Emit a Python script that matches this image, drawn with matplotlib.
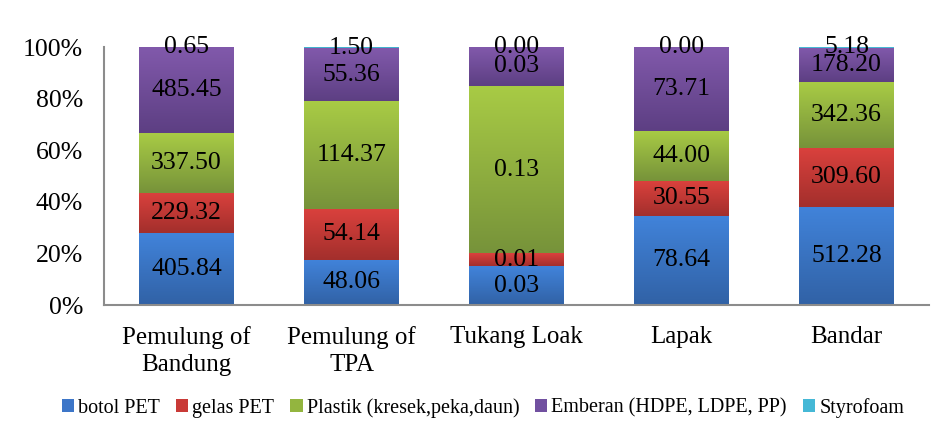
import numpy as np
import matplotlib
matplotlib.use("Agg")
import matplotlib.pyplot as plt
from matplotlib.colors import LinearSegmentedColormap
from matplotlib.patches import Patch

categories = ["Pemulung of\nBandung", "Pemulung of\nTPA", "Tukang Loak", "Lapak", "Bandar"]
series_names = ["botol PET", "gelas PET", "Plastik (kresek,peka,daun)",
                "Emberan (HDPE, LDPE, PP)", "Styrofoam"]
botol_pet = [405.84, 48.06, 0.03, 78.64, 512.28]
gelas_pet = [229.32, 54.14, 0.01, 30.55, 309.60]
plastik = [337.50, 114.37, 0.13, 44.00, 342.36]
emberan = [485.45, 55.36, 0.03, 73.71, 178.20]
styrofoam = [0.65, 1.50, 0.00, 0.00, 5.18]
yticks = [0, 20, 40, 60, 80, 100]
ytick_labels = ["0%", "20%", "40%", "60%", "80%", "100%"]

series = [botol_pet, gelas_pet, plastik, emberan, styrofoam]
# (top light, bottom dark, legend colour)
colors = [("#4183DA", "#3162A6", "#3D76C8"),
          ("#DA413D", "#A32F2C", "#C93A37"),
          ("#A8CB45", "#77933A", "#93B53F"),
          ("#8159AB", "#5D3F83", "#7150A0"),
          ("#52CBE6", "#3AA6C4", "#45B8D6")]

plt.rcParams['font.family'] = ['Liberation Serif', 'DejaVu Serif']

fig = plt.figure(figsize=(9.51, 4.22), dpi=100)
ax = fig.add_axes([104/951, 1 - 305/422, (929-104)/951, (305-47)/422])

data = np.array(series, dtype=float)
totals = data.sum(axis=0)
pct = data / totals * 100
x = np.arange(len(categories))
width = 0.575
bottom = np.zeros(len(categories))
for i, name in enumerate(series_names):
    bars = ax.bar(x, pct[i], width, bottom=bottom, color=colors[i][2],
                  edgecolor='none', zorder=2, label=name)
    cmap = LinearSegmentedColormap.from_list("g%d" % i, [colors[i][1], colors[i][0]])
    for b in bars:
        h = b.get_height()
        if h <= 0:
            continue
        x0 = b.get_x()
        grad = np.linspace(0, 1, 64).reshape(-1, 1)
        im = ax.imshow(grad, cmap=cmap, origin='lower', aspect='auto',
                       extent=[x0, x0 + b.get_width(), b.get_y(), b.get_y() + h],
                       zorder=2.5, interpolation='bicubic')
        im.set_clip_path(b)
    for j in range(len(categories)):
        yc = bottom[j] + pct[i][j] / 2
        ax.text(x[j], yc, "%.2f" % data[i][j], ha='center', va='center',
                fontsize=18.5, color='black', zorder=4)
    bottom += pct[i]

ax.set_xlim(-0.5, len(categories) - 0.5)
ax.set_ylim(0, 100)
ax.set_yticks(yticks)
ax.set_yticklabels(ytick_labels, fontsize=18.5)
ax.set_xticks(x)
ax.set_xticklabels(categories, fontsize=18, linespacing=1.3)
ax.tick_params(axis='both', length=0)
ax.tick_params(axis='y', pad=15)
ax.tick_params(axis='x', pad=15)
for s in ['top', 'right']:
    ax.spines[s].set_visible(False)
for s in ['left', 'bottom']:
    ax.spines[s].set_color('#8C8C8C')
    ax.spines[s].set_linewidth(1.5)
    ax.spines[s].set_zorder(5)

handles = [Patch(facecolor=c[2], edgecolor='none') for c in colors]
fig.legend(handles, series_names, loc='center', bbox_to_anchor=(0.508, 1 - 408/422),
           ncol=5, frameon=False, fontsize=14.5, handlelength=0.6, handleheight=0.6,
           handletextpad=0.2, columnspacing=0.8)

fig.savefig("out.png", dpi=100)
